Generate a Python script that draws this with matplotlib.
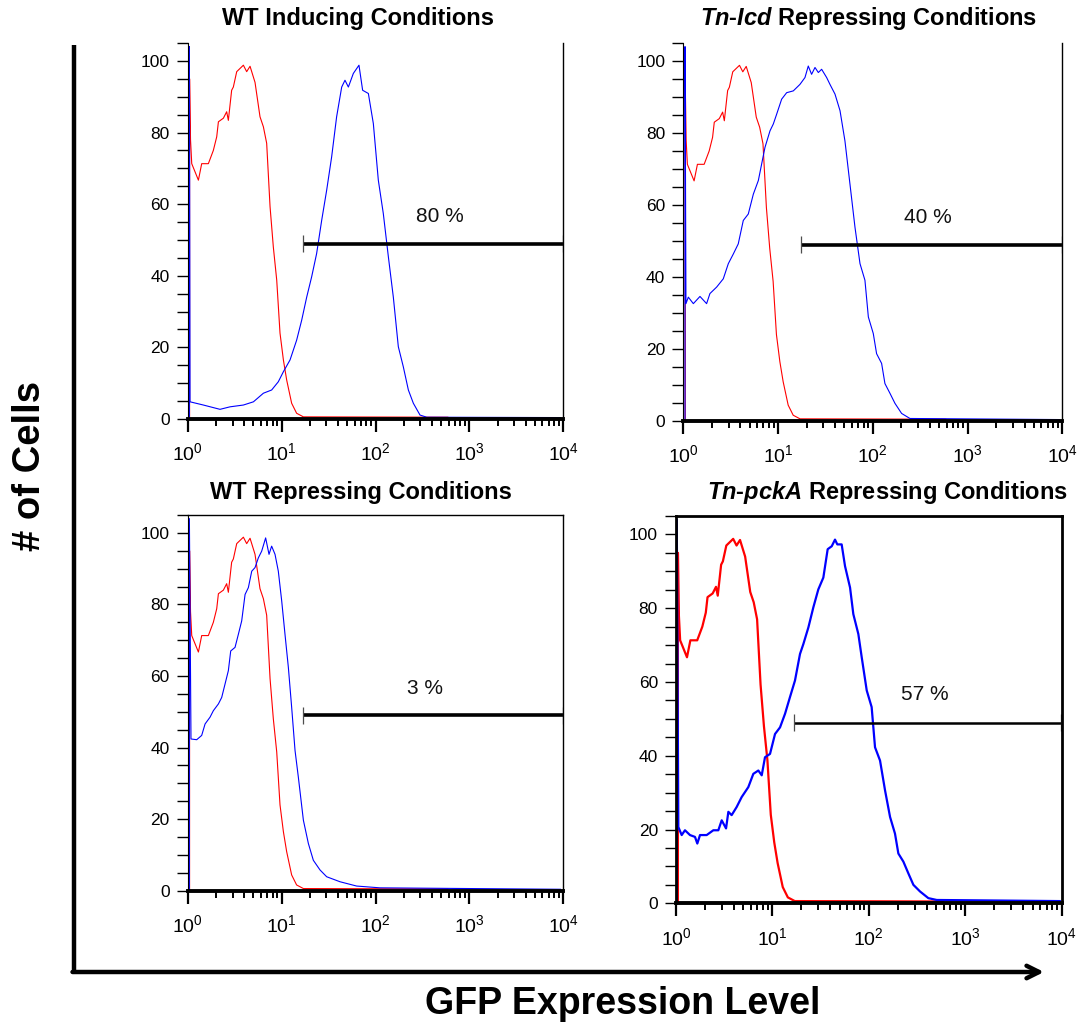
import numpy as np
import matplotlib
matplotlib.use("Agg")
import matplotlib.pyplot as plt
from matplotlib.ticker import MultipleLocator, LogLocator, FuncFormatter, NullFormatter

plt.rcParams['font.family'] = ['Liberation Sans', 'DejaVu Sans']
plt.rcParams['mathtext.fontset'] = 'custom'
plt.rcParams['mathtext.rm'] = 'Liberation Sans'
plt.rcParams['mathtext.it'] = 'Liberation Sans:italic'
plt.rcParams['mathtext.bf'] = 'Liberation Sans:bold'
plt.rcParams['mathtext.bfit'] = 'Liberation Sans:italic:bold'

# unstained control (red), same in every panel: log10 channel, % of max
ctrl_log10 = [0.020, 0.020, 0.030, 0.043, 0.114, 0.149, 0.220, 0.273, 0.309, 0.327,
              0.380, 0.415, 0.433, 0.468, 0.486, 0.522, 0.593, 0.628, 0.664, 0.717,
              0.770, 0.806, 0.841, 0.877, 0.912, 0.948, 0.983, 1.019, 1.054, 1.107,
              1.160, 1.232, 2.770]
ctrl_pct = [0, 95, 78, 71.3, 66.7, 71.3, 71.3, 75, 78.8, 83,
            84, 85.8, 83.4, 91.8, 92.7, 97, 98.8, 97, 98.5, 94,
            84.4, 81.6, 77, 59.3, 48, 38.8, 24, 16.5, 10.9, 4.4,
            1.6, 0.6, 0.5]

# GFP reporter (blue)
wt_ind_log10 = [0.018, 0.018, 0.025, 0.167, 0.344, 0.451, 0.593, 0.700, 0.806, 0.894,
                0.965, 1.019, 1.090, 1.160, 1.214, 1.267, 1.320, 1.373, 1.427, 1.480,
                1.533, 1.586, 1.640, 1.675, 1.711, 1.764, 1.824, 1.863, 1.924, 1.977,
                2.030, 2.083, 2.137, 2.190, 2.243, 2.296, 2.350, 2.403, 2.474, 2.545, 3.970]
wt_ind_pct = [0, 104, 4.8, 3.9, 2.7, 3.4, 3.9, 4.8, 7.2, 8.1,
              10.4, 13.2, 16.5, 22, 27.6, 34, 39.7, 46.2, 55.5, 63.9,
              73.2, 84.4, 92.7, 94.6, 92.7, 96.5, 98.8, 91.8, 90.9, 82.5,
              66.7, 57.4, 45.3, 34, 20.2, 14.6, 8.1, 4.4, 1.1, 0.5, 0.4]

icd_rep_log10 = [0.018, 0.018, 0.028, 0.053, 0.106, 0.176, 0.246, 0.281, 0.352, 0.422,
                 0.475, 0.528, 0.580, 0.633, 0.686, 0.739, 0.792, 0.827, 0.862, 0.915,
                 0.950, 0.985, 1.038, 1.091, 1.161, 1.231, 1.284, 1.319, 1.354, 1.390,
                 1.425, 1.460, 1.513, 1.548, 1.601, 1.654, 1.706, 1.759, 1.812, 1.865,
                 1.917, 1.953, 2.005, 2.040, 2.093, 2.128, 2.181, 2.234, 2.304, 2.392, 3.970]
icd_rep_pct = [0, 104, 32.6, 34.4, 32.6, 34.6, 32.6, 35.4, 37.2, 39.5,
               43.7, 46.4, 49.2, 55.7, 57.5, 63, 66.8, 71.4, 76, 80.6,
               82.5, 85.2, 89.4, 91.2, 91.7, 93.5, 95.4, 98.6, 96.3, 98.2,
               96.8, 97.7, 95.4, 93.5, 90.8, 86.2, 77.8, 65.8, 53.8, 43.7,
               39.1, 28.9, 24.3, 18.7, 16, 10.4, 7.7, 4.9, 2.1, 0.7, 0.4]

wt_rep_log10 = [0.018, 0.018, 0.035, 0.096, 0.149, 0.185, 0.238, 0.273, 0.327, 0.362,
                0.398, 0.433, 0.458, 0.504, 0.540, 0.575, 0.611, 0.646, 0.682, 0.717,
                0.752, 0.788, 0.830, 0.866, 0.894, 0.930, 0.965, 1.001, 1.036, 1.072,
                1.107, 1.143, 1.178, 1.232, 1.285, 1.338, 1.409, 1.480, 1.622, 1.799,
                2.048, 3.970]
wt_rep_pct = [0, 104, 42.4, 42.2, 43.4, 46.6, 48.5, 50.3, 52.2, 54,
              57.8, 61.5, 67, 68, 71.7, 75.4, 82.8, 84.7, 89.3, 90.3,
              93, 94.9, 98.6, 94, 96.3, 94, 89.3, 81, 71.7, 62.4,
              51.3, 39.2, 31.8, 19.7, 13.2, 8.5, 5.8, 3.9, 2.5, 1.3,
              0.8, 0.4]

pck_rep_log10 = [0.008, 0.008, 0.024, 0.059, 0.093, 0.145, 0.197, 0.221, 0.249, 0.318,
                 0.387, 0.439, 0.474, 0.519, 0.543, 0.577, 0.629, 0.681, 0.750, 0.802,
                 0.854, 0.889, 0.923, 0.975, 1.027, 1.079, 1.131, 1.182, 1.234, 1.286,
                 1.321, 1.373, 1.424, 1.476, 1.528, 1.573, 1.615, 1.649, 1.673, 1.718,
                 1.753, 1.805, 1.839, 1.891, 1.926, 1.978, 2.029, 2.064, 2.116, 2.168,
                 2.220, 2.271, 2.306, 2.358, 2.410, 2.462, 2.531, 2.617, 2.704, 3.980]
pck_rep_pct = [0, 104, 20.7, 18.5, 19.8, 18.5, 18, 16.2, 18.5, 18.5,
               19.8, 19.8, 22.5, 20.3, 24.8, 23.9, 26.1, 28.8, 31.5, 35.1,
               36, 34.7, 39.6, 40.5, 45.9, 47.7, 51.4, 55.9, 60.4, 67.6,
               70.3, 74.8, 80.2, 85.1, 88.3, 96, 96.8, 98.6, 97.3, 97.3,
               91.4, 85.6, 78.4, 73, 66.7, 57.7, 53.2, 42.3, 38.7, 30.6,
               23.4, 18.9, 13.5, 11.3, 8.1, 5, 3.2, 1.4, 0.9, 0.6]

titles = [r'WT Inducing Conditions',
          r'$\mathbfit{Tn}$-$\mathbfit{Icd}$ Repressing Conditions',
          r'WT Repressing Conditions',
          r'$\mathbfit{Tn}$-$\mathbfit{pckA}$ Repressing Conditions']
blue_log10 = [wt_ind_log10, icd_rep_log10, wt_rep_log10, pck_rep_log10]
blue_pct = [wt_ind_pct, icd_rep_pct, wt_rep_pct, pck_rep_pct]
gate_start_log10 = [1.232, 1.238, 1.232, 1.227]
gate_pct = ['80 %', '40 %', '3 %', '57 %']
gate_label_log10 = [2.687, 2.586, 2.527, 2.583]

W, H = 1083, 1026
fig = plt.figure(figsize=(W / 100, H / 100), dpi=100)

# outer frame: "# of Cells" axis and GFP arrow
frame = fig.add_axes([0, 0, 1, 1], zorder=0)
frame.set_xlim(0, W)
frame.set_ylim(H, 0)
frame.axis('off')
frame.plot([74, 74], [45, 972], color='black', lw=3.2, solid_capstyle='butt')
frame.annotate('', xy=(1044, 972), xytext=(72.5, 972),
               arrowprops=dict(arrowstyle='->,head_length=0.9,head_width=0.45',
                               lw=3.2, color='black', shrinkA=0, shrinkB=0))
frame.text(623, 1004, 'GFP Expression Level', ha='center', va='center',
           fontsize=27, fontweight='bold')
frame.text(30, 466, '# of Cells', ha='center', va='center', rotation=90,
           fontsize=27.5, fontweight='bold')

# panel boxes in pixels: left, right, bottom, top
boxes = [(187.7, 563.3, 419, 43), (683.3, 1062.3, 421, 43),
         (187.7, 563.3, 890.7, 515), (676, 1061.7, 903.3, 516)]
title_pos = [(358, 19), (869, 19), (361, 492), (887, 492)]

def dec_label(v, pos):
    return r'$\mathregular{10^{%d}}$' % round(np.log10(v))

for i in range(4):
    l, r, b, t = boxes[i]
    ax = fig.add_axes([l / W, 1 - b / H, (r - l) / W, (b - t) / H], zorder=1)
    ax.patch.set_alpha(0)
    heavy = (i == 3)
    lw_curve = 1.6 if heavy else 0.8

    ax.plot(10 ** np.array(ctrl_log10), ctrl_pct, color='#ff0000', lw=lw_curve)
    ax.plot(10 ** np.array(blue_log10[i]), blue_pct[i], color='#0000ff', lw=lw_curve)

    # marker gate
    g0 = 10 ** gate_start_log10[i]
    ax.plot([g0, 10 ** 3.995], [49, 49], color='black', lw=1.8 if heavy else 2.6,
            solid_capstyle='butt')
    ax.vlines([g0, 10 ** 3.995], 46.6, 51.4, color='0.3', lw=0.9)
    ax.text(10 ** gate_label_log10[i], 56.5, gate_pct[i], ha='center', va='center',
            fontsize=15, color='#111111')

    ax.set_xscale('log')
    ax.set_xlim(1, 1e4)
    ax.set_ylim(0, 105)
    ax.xaxis.set_major_locator(LogLocator(base=10, numticks=10))
    ax.xaxis.set_minor_locator(LogLocator(base=10, subs=np.arange(2, 10), numticks=20))
    ax.xaxis.set_major_formatter(FuncFormatter(dec_label))
    ax.xaxis.set_minor_formatter(NullFormatter())
    ax.yaxis.set_major_locator(MultipleLocator(20))
    ax.yaxis.set_minor_locator(MultipleLocator(5))
    ax.tick_params(axis='x', which='major', direction='out', length=9, width=1.6,
                   pad=8, labelsize=14)
    ax.tick_params(axis='x', which='minor', direction='out', length=5, width=1.4)
    ax.tick_params(axis='y', which='both', direction='out', length=8, width=1.0,
                   pad=5, labelsize=12.5)

    ax.spines['bottom'].set_linewidth(2.8)
    if i < 2:
        ax.spines['top'].set_visible(False)
        ax.spines['left'].set_linewidth(0.8)
        ax.spines['right'].set_linewidth(1.0)
    elif i == 2:
        ax.spines['top'].set_linewidth(1.0)
        ax.spines['left'].set_linewidth(0.8)
        ax.spines['right'].set_linewidth(1.0)
    else:
        for s in ('top', 'left', 'right'):
            ax.spines[s].set_linewidth(2.0)

    tx, ty = title_pos[i]
    frame.text(tx, ty, titles[i], ha='center', va='center', fontsize=17,
               fontweight='bold')

fig.savefig('out.png', dpi=100)
